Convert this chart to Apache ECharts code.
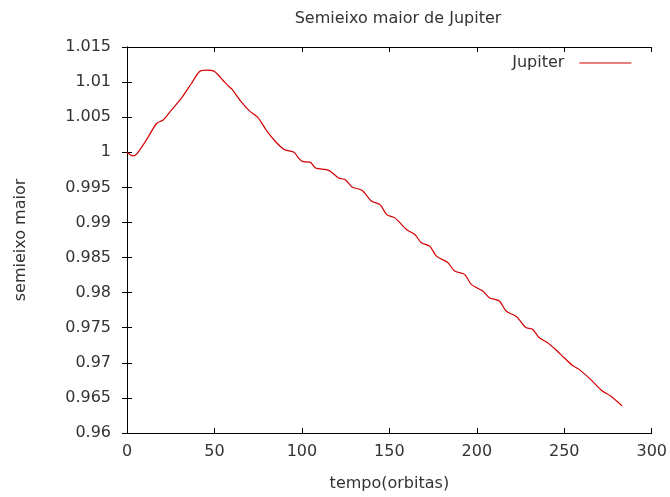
<!DOCTYPE html>
<html>
<head>
<meta charset="utf-8">
<script src="https://cdn.jsdelivr.net/npm/echarts@6/dist/echarts.min.js"></script>
<style>
html,body{margin:0;padding:0;background:#fff;}
#chart{width:670px;height:497px;}
</style>
</head>
<body>
<div id="chart"></div>
<script>
const titleText = 'Semieixo maior de Jupiter';
const seriesName = 'Jupiter';
const xName = 'tempo(orbitas)';
const yName = 'semieixo maior';

const tempo = [0, 3.2, 5.5, 11.2, 16.9, 20.7, 25.4, 31.1, 36.8, 41.5, 45.3, 50, 54.7, 58.1, 60, 65, 70, 75, 80, 85, 89.8, 95.5, 98, 100.2, 104.9, 107.8, 115.3, 121, 124.8, 128.6, 134.3, 140, 144.7, 148.5, 153.2, 159.8, 164.6, 168.3, 173.1, 176.9, 183.5, 187.3, 193, 196.8, 203.4, 207.2, 212.9, 216.7, 221.4, 223.3, 228, 231.8, 235.6, 240.3, 245, 249.8, 254.5, 258.3, 264.9, 271.6, 276.3, 283];
const semieixo = [1.0, 0.9995, 0.99975, 1.0018, 1.0041, 1.0046, 1.0060, 1.0077, 1.0098, 1.0115, 1.0117, 1.0115, 1.0103, 1.0094, 1.0090, 1.0073, 1.0059, 1.0049, 1.0030, 1.0015, 1.0004, 1.0000, 0.9992, 0.9987, 0.99856, 0.99776, 0.99742, 0.99634, 0.9961, 0.99506, 0.99458, 0.99301, 0.99254, 0.99112, 0.99065, 0.98899, 0.98828, 0.9871, 0.98662, 0.9852, 0.98426, 0.98307, 0.9826, 0.98118, 0.98023, 0.97928, 0.9788, 0.97738, 0.97677, 0.97644, 0.97502, 0.97478, 0.9736, 0.97289, 0.9719, 0.97076, 0.96966, 0.9691, 0.96767, 0.96601, 0.9653, 0.96388];

const xMin = 0, xMax = 300, xStep = 50;
const yMin = 0.96, yMax = 1.015, yStep = 0.005;

const data = tempo.map((t, i) => [t, semieixo[i]]);
const fmt = v => String(parseFloat(v.toFixed(3)));
const font = 'DejaVu Sans';
const fs = 16;
const txt = '#333';
const red = '#d40000';
const axisLine = {show: true, lineStyle: {color: '#000', width: 1}};

const chart = echarts.init(document.getElementById('chart'), null, {renderer: 'canvas'});
chart.setOption({
  animation: false,
  backgroundColor: '#fff',
  title: {
    text: titleText, left: 393, textAlign: 'center', top: 6,
    textStyle: {fontFamily: font, fontSize: fs, fontWeight: 'normal', color: txt}
  },
  legend: {
    data: [seriesName], right: 33, top: 50, align: 'right', orient: 'horizontal',
    itemWidth: 52, itemHeight: 14, itemGap: 10,
    textStyle: {fontFamily: font, fontSize: fs, color: txt, padding: [0, 10, 0, 0]},
    itemStyle: {opacity: 0},
    lineStyle: {color: red, width: 1.2}
  },
  grid: {left: 127, right: 15, top: 47, bottom: 63, containLabel: false},
  xAxis: [{
    type: 'value', min: xMin, max: xMax, interval: xStep, position: 'bottom',
    name: xName, nameLocation: 'middle', nameGap: 43,
    nameTextStyle: {fontFamily: font, fontSize: fs, color: txt},
    axisLine: axisLine,
    axisTick: {show: true, inside: true, length: 5, lineStyle: {color: '#000'}},
    axisLabel: {fontFamily: font, fontSize: fs, color: txt, margin: 11},
    splitLine: {show: false}
  }, {
    type: 'value', min: xMin, max: xMax, interval: xStep, position: 'top',
    axisLine: axisLine,
    axisTick: {show: true, inside: true, length: 5, lineStyle: {color: '#000'}},
    axisLabel: {show: false}, splitLine: {show: false}
  }],
  yAxis: [{
    type: 'value', min: yMin, max: yMax, interval: yStep, position: 'left',
    name: yName, nameLocation: 'middle', nameGap: 98, nameRotate: 90,
    nameTextStyle: {fontFamily: font, fontSize: fs, color: txt},
    axisLine: axisLine,
    axisTick: {show: true, inside: true, length: 5, lineStyle: {color: '#000'}},
    axisLabel: {fontFamily: font, fontSize: fs, color: txt, margin: 16, formatter: fmt},
    splitLine: {show: false}
  }, {
    type: 'value', min: yMin, max: yMax, interval: yStep, position: 'right',
    axisLine: axisLine,
    axisTick: {show: true, inside: true, length: 5, lineStyle: {color: '#000'}},
    axisLabel: {show: false}, splitLine: {show: false}
  }],
  series: [{
    name: seriesName, type: 'line', data: data,
    xAxisIndex: 0, yAxisIndex: 0,
    symbol: 'none', showSymbol: false, smooth: 0.25,
    lineStyle: {color: red, width: 1.2},
    itemStyle: {color: red}
  }]
});
</script>
</body>
</html>
